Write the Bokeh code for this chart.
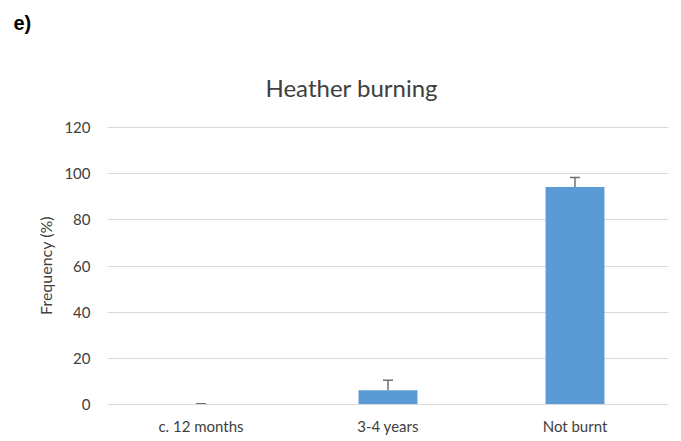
from bokeh.plotting import figure
from bokeh.models import ColumnDataSource, Whisker, TeeHead, Title, FactorRange, Range1d
from bokeh.embed import file_html
from bokeh.resources import INLINE

categories = ["c. 12 months", "3-4 years", "Not burnt"]
values = [0.0, 6.2, 94.2]
errors = [0.3, 4.3, 4.2]
y_ticks = [0, 20, 40, 60, 80, 100, 120]

FONT = "Lato"
TXT = "#404040"

src = ColumnDataSource(data=dict(
    cat=categories,
    val=values,
    upper=[v + e for v, e in zip(values, errors)],
))

p = figure(width=681, height=441, output_backend="svg", toolbar_location=None,
           x_range=FactorRange(*categories, range_padding=0.0),
           y_range=Range1d(0, 120.45),
           min_border_left=107, min_border_right=13, min_border_top=126, min_border_bottom=37)
p.outline_line_color = None
p.background_fill_color = "white"
p.border_fill_color = "white"

p.vbar(x="cat", top="val", bottom=0, width=0.315, source=src,
       fill_color="#5B9BD5", line_color=None)

w = Whisker(base="cat", lower="val", upper="upper", source=src,
            line_color="#6f6f6f", line_width=1.5,
            upper_head=TeeHead(size=10, line_color="#6f6f6f", line_width=1.5),
            lower_head=None)
p.add_layout(w)

p.xgrid.grid_line_color = None
p.ygrid.grid_line_color = "#d9d9d9"
p.ygrid.grid_line_width = 1

p.yaxis.ticker = y_ticks
p.yaxis.axis_line_color = None
p.yaxis.major_tick_line_color = None
p.yaxis.major_tick_out = 0
p.yaxis.minor_tick_line_color = None
p.yaxis.major_label_text_font = FONT
p.yaxis.major_label_text_font_size = "15px"
p.yaxis.major_label_text_color = TXT
p.yaxis.major_label_standoff = 17
p.yaxis.axis_label = "Frequency (%)"
p.yaxis.axis_label_text_font = FONT
p.yaxis.axis_label_text_font_size = "16px"
p.yaxis.axis_label_text_font_style = "normal"
p.yaxis.axis_label_text_color = TXT
p.yaxis.axis_label_standoff = 6

p.xaxis.axis_line_color = "#d9d9d9"
p.xaxis.major_tick_line_color = None
p.xaxis.major_tick_out = 0
p.xaxis.minor_tick_line_color = None
p.xaxis.major_label_text_font = FONT
p.xaxis.major_label_text_font_size = "15px"
p.xaxis.major_label_text_color = TXT
p.xaxis.major_label_standoff = 12

main_title = Title(text="Heather burning", text_font=FONT, text_font_size="24px",
                   text_font_style="normal", text_color=TXT,
                   align="left", offset=158, vertical_align="bottom", standoff=50)
p.add_layout(main_title, "above")

tag = Title(text="e)", text_font="Liberation Sans", text_font_style="bold",
            text_font_size="20px", text_color="black",
            align="left", offset=-94, vertical_align="top", standoff=19)
p.add_layout(tag, "above")

open("out.html", "w").write(file_html(p, INLINE))
